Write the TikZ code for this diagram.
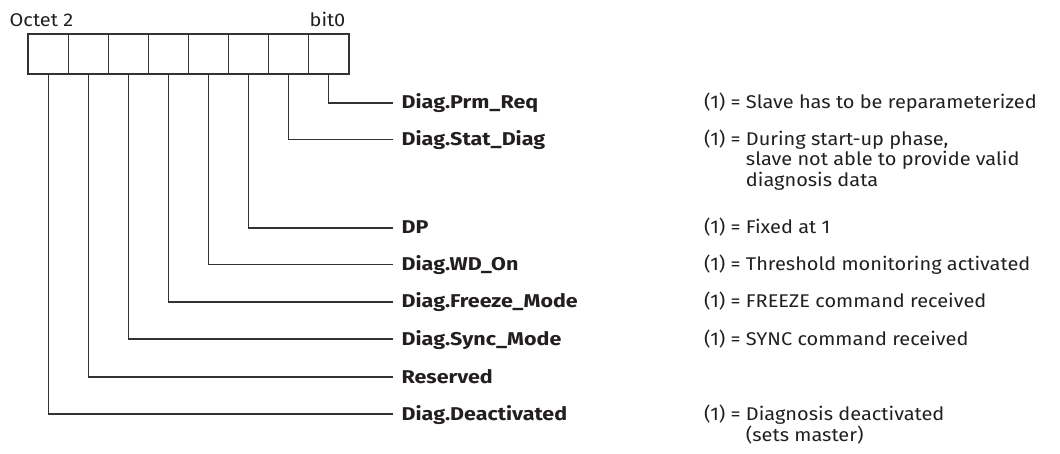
\documentclass[tikz,border=0pt]{standalone}
\usepackage{fontspec}
\setmainfont{Fira Sans}[FakeStretch=1.085]
\newfontfamily\flagfont{Fira Sans}[FakeStretch=1.16]
\usepackage{tikz}
\usetikzlibrary{positioning,calc}
\definecolor{diagline}{RGB}{50,50,50}
\definecolor{diagtext}{RGB}{35,31,32}

\begin{document}
\begin{tikzpicture}[
  x=1pt, y=-1pt,
  font=\fontsize{18.4}{20}\selectfont, text=diagtext,
  bitcell/.style={draw=diagline, line width=1.1pt, minimum width=40.125pt,
                  minimum height=40pt, inner sep=0pt},
  flagname/.style={anchor=west, inner xsep=9pt, inner ysep=0pt,
                   text height=12pt, text depth=0pt, font=\flagfont\fontsize{18.5}{20}\selectfont\bfseries},
  flagdesc/.style={anchor=west, inner xsep=0pt, inner ysep=0pt,
                   text height=12pt, text depth=0pt},
  conn/.style={draw=diagline, line width=1.1pt}
]
\useasboundingbox (0,0) rectangle (1060,454);

%% octet cells, bit0 on the right
\foreach \i in {0,...,7}
  \node[bitcell] (b\i) at ({349-20.06-40.125*\i},54) {};

\node[anchor=base west, inner sep=0pt] (octet) at ([xshift=-18pt, yshift=7pt]b7.north west) {Octet 2};
\node[anchor=base east, inner sep=0pt] (bitzero) at ([xshift=-4pt, yshift=7pt]b0.north east) {bit0};

%% flag names
\node[flagname] (prm)    at (392.5,103) {Diag.Prm\_Req};
\node[flagname] (stat)   at (392.5,139.5) {Diag.Stat\_Diag};
\node[flagname] (dp)     at (392.5,228) {DP};
\node[flagname] (wd)     at (392.5,264.5) {Diag.WD\_On};
\node[flagname] (freeze) at (392.5,302) {Diag.Freeze\_Mode};
\node[flagname] (sync)   at (392.5,339) {Diag.Sync\_Mode};
\node[flagname] (res)    at (392.5,377) {Reserved};
\node[flagname] (deact)  at (392.5,414) {Diag.Deactivated};

%% connectors from each bit
\draw[conn] (b0.south) |- (prm.west);
\draw[conn] (b1.south) |- (stat.west);
\draw[conn] (b2.south) |- (dp.west);
\draw[conn] (b3.south) |- (wd.west);
\draw[conn] (b4.south) |- (freeze.west);
\draw[conn] (b5.south) |- (sync.west);
\draw[conn] (b6.south) |- (res.west);
\draw[conn] (b7.south) |- (deact.west);

%% meaning of each flag
\coordinate (desccol) at (704,0);
\node[flagdesc] (prmd)    at (desccol |- prm)    {(1) = Slave has to be reparameterized};
\node[flagdesc] (statd)   at (desccol |- stat)   {\begin{tabular}[t]{@{}l@{ }l@{}}(1) =&During start-up phase,\\&slave not able to provide valid\\&diagnosis data\end{tabular}};
\node[flagdesc] (dpd)     at (desccol |- dp)     {(1) = Fixed at 1};
\node[flagdesc] (wdd)     at (desccol |- wd)     {(1) = Threshold monitoring activated};
\node[flagdesc] (freezed) at (desccol |- freeze) {(1) = FREEZE command received};
\node[flagdesc] (syncd)   at (desccol |- sync)   {(1) = SYNC command received};
\node[flagdesc] (deactd)  at (desccol |- deact)  {\begin{tabular}[t]{@{}l@{ }l@{}}(1) =&Diagnosis deactivated\\&(sets master)\end{tabular}};

\end{tikzpicture}
\end{document}
